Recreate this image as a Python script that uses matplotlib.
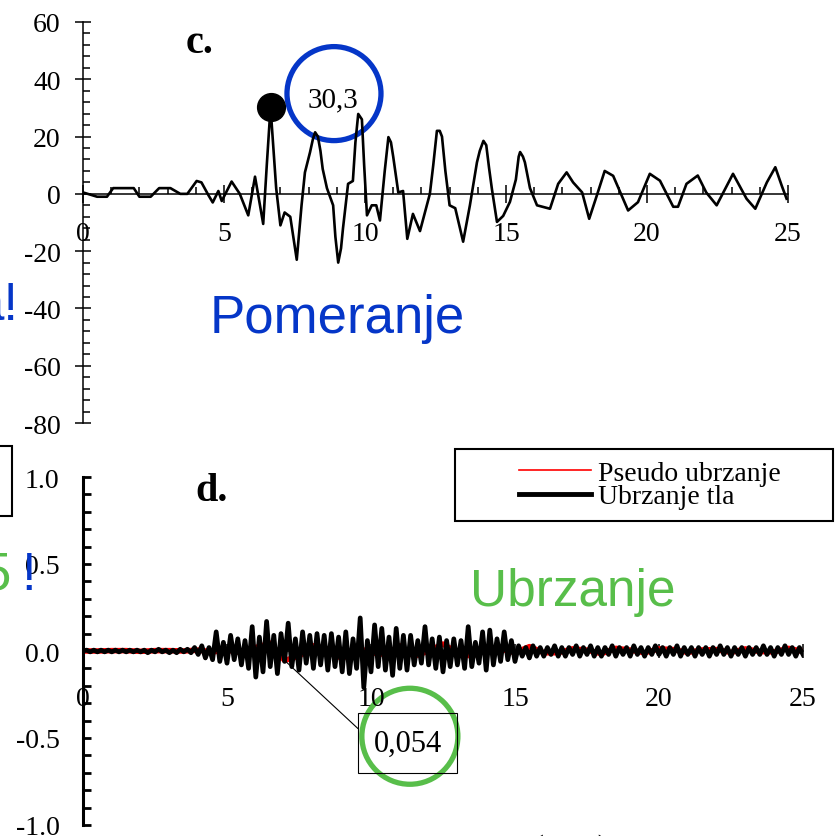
import numpy as np
import matplotlib

matplotlib.use('Agg')

from matplotlib import pyplot as plt
from matplotlib.lines import Line2D
from matplotlib.patches import Circle, Rectangle
from matplotlib.transforms import ScaledTranslation
from matplotlib.ticker import MultipleLocator

plt.rcParams['font.family'] = ['Liberation Serif', 'DejaVu Serif']
plt.rcParams['font.size'] = 20

BLUE = '#0536C8'
GREEN = '#58BE4A'

##### Pomeranje (displacement, cm) #####
disp_t = [0, 0.5, 0.85, 1.07, 1.8, 2.0, 2.4, 2.7, 3.1, 3.45, 3.7, 4.03, 4.2, 4.45, 4.6,
          4.8, 4.92, 5.27, 5.56, 5.86, 6.1, 6.39, 6.52, 6.65, 6.85, 7.0, 7.15, 7.35, 7.58,
          7.75, 7.87, 8.05, 8.15, 8.23, 8.33, 8.42, 8.5, 8.65, 8.87, 8.95, 9.05, 9.15, 9.22,
          9.4, 9.57, 9.66, 9.76, 9.89, 9.97, 10.07, 10.24, 10.4, 10.53, 10.7, 10.83, 10.92,
          11.0, 11.18, 11.35, 11.5, 11.7, 11.95, 12.3, 12.42, 12.55, 12.65, 12.73, 12.85,
          13.0, 13.2, 13.48, 13.72, 13.97, 14.07, 14.2, 14.3, 14.4, 14.5, 14.68, 14.9,
          15.14, 15.35, 15.45, 15.5, 15.6, 15.67, 15.85, 16.1, 16.56, 16.85, 17.15, 17.38,
          17.7, 17.95, 18.22, 18.5, 18.8, 19.33, 19.68, 20.1, 20.46, 20.93, 21.1, 21.4,
          21.8, 22.1, 22.47, 23.05, 23.53, 23.84, 24.25, 24.55, 24.78, 24.95]
disp_cm = [0.5, -1, -1, 2, 2, -1, -1, 2, 2, 0, 0, 4.5, 4, -0.5, -3,
           1, -2.5, 4.3, 0, -7.5, 6, -10.5, 10.5, 30.3, 2, -11, -6.5, -8, -23,
           -4, 7.5, 14.5, 19, 21.5, 20, 15, 8.7, 2, -4, -15, -24, -19, -12,
           3.5, 4.5, 18, 27.9, 26, 10, -7.5, -4, -4, -9.3, 8, 19.8, 18,
           13, 0.5, 1, -15.7, -7, -13, 0, 10, 22, 22, 20, 8,
           -4, -5, -16.7, -4, 11, 15, 18.5, 17, 9, 1.7, -9.8, -7.7,
           -2.8, 5, 13, 14.6, 13, 11, 2, -4, -5.2, 3.5, 7.5, 4,
           0.5, -8.7, -0.6, 8, 6.3, -5.8, -2.9, 7, 4.6, -4.5, -4.5, 3.5,
           6.4, 0.5, -4, 7, -1.7, -5.2, 4, 9.3, 2.8, -1.7]

##### Ubrzanje tla (ground acceleration, g), sampled every 0.125 s #####
acc_t = np.arange(0, 25.001, 0.125)
acc_g = [
    0.00, 0.005, -0.005, 0.005, -0.005, 0.005, -0.005, 0.005,
    -0.005, 0.005, -0.005, 0.005, -0.005, 0.005, -0.005, 0.005,
    -0.005, 0.005, -0.01, 0.005, -0.005, 0.01, -0.005, 0.005,
    -0.01, 0.005, -0.01, 0.01, -0.005, 0.01, -0.01, 0.02,
    -0.02, 0.03, -0.04, 0.02, -0.05, 0.11, -0.06, 0.05,
    -0.07, 0.09, -0.05, 0.07, -0.08, 0.06, -0.10, 0.14,
    -0.15, 0.08, -0.12, 0.17, -0.09, 0.09, -0.13, 0.10,
    -0.06, 0.16, -0.09, 0.07, -0.11, 0.11, -0.07, 0.09,
    -0.10, 0.10, -0.08, 0.09, -0.11, 0.10, -0.09, 0.08,
    -0.12, 0.11, -0.13, 0.07, -0.10, 0.19, -0.21, 0.06,
    -0.12, 0.15, -0.09, 0.13, -0.11, 0.08, -0.14, 0.13,
    -0.10, 0.09, -0.11, 0.09, -0.08, 0.06, -0.07, 0.14,
    -0.08, 0.07, -0.10, 0.08, -0.12, 0.06, -0.09, 0.07,
    -0.08, 0.06, -0.10, 0.14, -0.09, 0.05, -0.07, 0.11,
    -0.11, 0.12, -0.08, 0.07, -0.06, 0.11, -0.05, 0.06,
    -0.06, 0.03, -0.03, 0.02, -0.04, 0.03, -0.03, 0.02,
    -0.03, 0.02, -0.02, 0.03, -0.03, 0.02, -0.03, 0.02,
    -0.02, 0.03, -0.03, 0.02, -0.02, 0.03, -0.03, 0.02,
    -0.03, 0.02, -0.02, 0.03, -0.03, 0.02, -0.02, 0.02,
    -0.03, 0.03, -0.02, 0.02, -0.03, 0.02, -0.02, 0.03,
    -0.02, 0.02, -0.03, 0.02, -0.02, 0.03, -0.03, 0.02,
    -0.02, 0.02, -0.03, 0.02, -0.02, 0.02, -0.03, 0.02,
    -0.02, 0.03, -0.02, 0.02, -0.03, 0.02, -0.02, 0.02,
    -0.03, 0.02, -0.02, 0.02, -0.02, 0.03, -0.02, 0.02,
    -0.03, 0.02, -0.02, 0.03, -0.02, 0.02, -0.03, 0.02,
    -0.02]

##### Pseudo ubrzanje (g), sampled every 0.5 s #####
pseudo_t = np.arange(0, 25.001, 0.5)
pseudo_g = [0, 0, 0.002, 0.002, -0.002, 0.002, 0.002, 0, 0.005, -0.005,
            0.005, -0.01, 0.02, 0.045, -0.054, -0.03, 0.03, 0.01, -0.045, 0.02,
            -0.01, -0.02, 0.03, -0.03, 0, 0.04, -0.01, -0.03, 0.02, 0.01,
            -0.01, 0.025, -0.01, -0.01, 0.012, 0.005, -0.015, 0.015, 0.005, -0.01,
            0.012, 0.008, -0.008, 0.006, 0.008, -0.008, 0.012, -0.003, -0.005, 0.015,
            -0.003]


def fx(px):
    return px / 836.0


def fy(py):
    return 1 - py / 837.0


fig = plt.figure(figsize=(8.36, 8.37), dpi=100)

##### c. displacement #####
ax1 = fig.add_axes([fx(83), fy(424), 705 / 836, 401 / 837])
ax1.plot(disp_t, disp_cm, color='black', lw=1.9)
i_pk = int(np.argmax(disp_cm))
ax1.plot(disp_t[i_pk], disp_cm[i_pk], 'o', color='black', ms=20, clip_on=False)

ax1.set_xlim(0, 25)
ax1.set_ylim(-80, 60)
for s in ('top', 'right'):
    ax1.spines[s].set_visible(False)
ax1.spines['bottom'].set_position(('data', 0))
ax1.spines['bottom'].set_linewidth(1.1)
ax1.spines['left'].set_linewidth(1.1)
ax1.xaxis.set_major_locator(MultipleLocator(5))
ax1.xaxis.set_minor_locator(MultipleLocator(1))
ax1.yaxis.set_major_locator(MultipleLocator(20))
ax1.yaxis.set_minor_locator(MultipleLocator(4))
ax1.tick_params(axis='x', which='major', direction='inout', length=13, width=1.1, pad=13)
ax1.tick_params(axis='x', which='minor', direction='in', length=5, width=1.1)
ax1.tick_params(axis='y', which='major', direction='inout', length=12, width=1.1, pad=10)
ax1.tick_params(axis='y', which='minor', direction='in', length=5, width=1.1)
ax1.set_yticklabels([f'{v:g}' for v in ax1.get_yticks()])
ax1.text(3.65, 49.5, 'c.', fontsize=29, fontweight='bold', va='baseline', ha='left')

# circled peak value
ax1.text(8.85, 33.0, '30,3', fontsize=21, ha='center', va='center')
ax1.add_patch(Circle((0, 0), 0.47, transform=fig.dpi_scale_trans
                     + ScaledTranslation(8.9, 35.0, ax1.transData),
                     fill=False, ec=BLUE, lw=3.8, clip_on=False))

##### d. acceleration #####
ax2 = fig.add_axes([fx(83), fy(826), 720 / 836, 348 / 837])
ax2.plot(pseudo_t, pseudo_g, color='red', lw=4, zorder=2)
ax2.plot(acc_t, acc_g, color='black', lw=3.4, zorder=3)

ax2.set_xlim(0, 25)
ax2.set_ylim(-1, 1)
for s in ('top', 'right'):
    ax2.spines[s].set_visible(False)
ax2.spines['bottom'].set_position(('data', 0))
ax2.spines['bottom'].set_linewidth(1.1)
ax2.spines['left'].set_linewidth(2.2)
ax2.xaxis.set_major_locator(MultipleLocator(5))
ax2.yaxis.set_major_locator(MultipleLocator(0.5))
ax2.yaxis.set_minor_locator(MultipleLocator(0.1))
ax2.tick_params(axis='x', which='major', direction='inout', length=10, width=1.1, pad=20)
ax2.tick_params(axis='y', which='major', direction='in', length=6, width=2, pad=17)
ax2.tick_params(axis='y', which='minor', direction='in', length=6, width=2)
ax2.set_yticklabels([f'{v:.1f}' for v in ax2.get_yticks()])
ax2.text(3.9, 0.87, 'd.', fontsize=29, fontweight='bold', va='baseline', ha='left')

i_min = int(np.argmin(pseudo_g))
ax2.annotate(f'{abs(pseudo_g[i_min]):.3f}'.replace('.', ','),
             xy=(pseudo_t[i_min], pseudo_g[i_min]), xytext=(11.28, -0.53),
             ha='center', va='center', fontsize=22,
             bbox=dict(boxstyle='square,pad=0.5', fc='none', ec='black', lw=0.8),
             arrowprops=dict(arrowstyle='-', color='black', lw=0.8,
                             relpos=(0, 0.5), shrinkA=0, shrinkB=0))
ax2.add_patch(Circle((0, 0), 0.48, transform=fig.dpi_scale_trans
                     + ScaledTranslation(11.35, -0.49, ax2.transData),
                     fill=False, ec=GREEN, lw=3.8, clip_on=False))

# legend: entries centred in a separate frame
handles = [Line2D([], [], color='red', lw=1.2),
           Line2D([], [], color='black', lw=3.5)]
ax2.legend(handles, ['Pseudo ubrzanje', 'Ubrzanje tla'],
           loc='center', bbox_to_anchor=(fx(650), fy(486)),
           bbox_transform=fig.transFigure, frameon=False,
           fontsize=20, handlelength=2.6, handletextpad=0.25, labelspacing=-0.08,
           borderpad=0, borderaxespad=0)
fig.add_artist(Rectangle((fx(455), fy(522)), 378 / 836, 72 / 837,
                         transform=fig.transFigure, fill=False, ec='black', lw=1.5))

##### slide texts #####
fig.text(fx(337), fy(333), 'Pomeranje', color=BLUE, fontsize=38,
         family='Liberation Sans', ha='center', va='baseline')
fig.text(fx(573), fy(606), 'Ubrzanje', color=GREEN, fontsize=37,
         family='Liberation Sans', ha='center', va='baseline')
fig.text(fx(19), fy(320), 'a!', color=BLUE, fontsize=38,
         family='Liberation Sans', ha='right', va='baseline')
fig.text(fx(11), fy(590), '5', color=GREEN, fontsize=38,
         family='Liberation Sans', ha='right', va='baseline')
fig.text(fx(36), fy(590), '!', color=BLUE, fontsize=38,
         family='Liberation Sans', ha='right', va='baseline')
fig.add_artist(Rectangle((fx(-20), fy(517)), fx(32), 70 / 837,
                         transform=fig.transFigure, fill=False, ec='black', lw=1.5))
fig.text(fx(510), fy(835), 'Vreme (sec)', fontsize=30, ha='center', va='top')

plt.savefig('out.png', dpi=100)
